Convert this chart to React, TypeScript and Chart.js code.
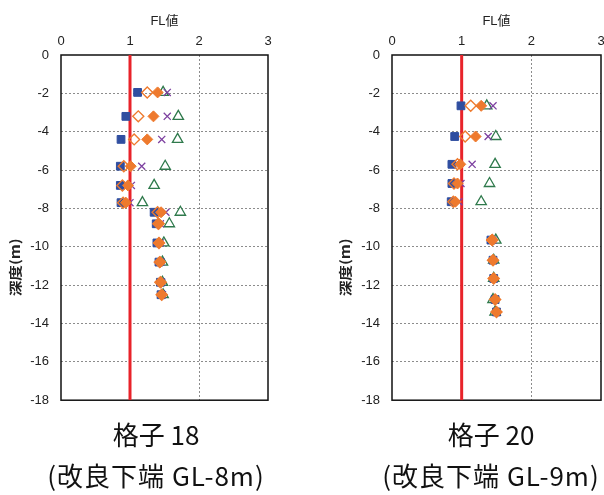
import React, { useEffect, useRef } from 'react';
import { Chart, registerables } from 'chart.js';

Chart.register(...registerables);

// ---- data ----
const X_TICK_STEP = 1;
const X_MIN = 0;
const X_MAX = 3;
const Y_MIN = -18;
const Y_MAX = 0;
const Y_TICK_STEP = 2;

const LIMIT_X = [1, 1];
const LIMIT_Y = [0, -18];

// 格子18
const DEPTH_18 = [-1.95, -3.2, -4.4, -5.8, -6.8, -7.7, -8.2, -8.8, -9.8, -10.8, -11.85, -12.5];
const SQUARE_18 = [1.11, 0.94, 0.87, 0.86, 0.86, 0.87, 1.35, 1.38, 1.39, 1.42, 1.44, 1.45];
const OPEN_DIAMOND_18 = [1.25, 1.12, 1.06, 0.91, 0.89, 0.9, 1.4, 1.41, 1.42, 1.43, 1.44, 1.46];
const DIAMOND_18 = [1.4, 1.34, 1.25, 1.01, 0.97, 0.94, 1.45, 1.42, 1.42, 1.44, 1.45, 1.46];
const CROSS_18 = [1.54, 1.54, 1.46, 1.17, 1.02, 1.0, 1.52, 1.44, 1.44, 1.45, 1.46, 1.47];
const TRIANGLE_18 = [1.48, 1.7, 1.69, 1.51, 1.35, 1.18, 1.73, 1.57, 1.49, 1.47, 1.47, 1.48];

// 格子20
const DEPTH_20 = [-2.65, -4.25, -5.7, -6.7, -7.65, -9.65, -10.7, -11.65, -12.75, -13.4];
const SQUARE_20 = [0.99, 0.9, 0.86, 0.86, 0.85, 1.42, 1.45, 1.46, 1.48, 1.5];
const OPEN_DIAMOND_20 = [1.13, 1.05, 0.94, 0.89, 0.88, 1.44, 1.45, 1.46, 1.48, 1.5];
const DIAMOND_20 = [1.28, 1.2, 0.98, 0.94, 0.91, 1.43, 1.45, 1.46, 1.48, 1.5];
const CROSS_20 = [1.45, 1.38, 1.15, 0.99, 0.96, 1.45, 1.45, 1.46, 1.48, 1.5];
const TRIANGLE_20 = [1.36, 1.49, 1.48, 1.4, 1.28, 1.49, 1.46, 1.46, 1.45, 1.48];

const CAPTION_18 = ['格子 18', '(改良下端 GL-8m)'];
const CAPTION_20 = ['格子 20', '(改良下端 GL-9m)'];

// ---- styles ----
const BLUE = '#2f4ea0';
const ORANGE = '#ee7a2e';
const PURPLE = '#7d40a0';
const GREEN = '#2f7a4c';
const RED = '#e8232a';
const GRID = '#8c8c8c';
const TEXT = '#222';
const TICK_FONT = { family: "'Liberation Sans', Arial, sans-serif", size: 13 };

const pts = (xs: number[], ys: number[]) => xs.map((x, i) => ({ x, y: ys[i] }));

const boxPlugin = {
  id: 'plotBox',
  beforeDatasetsDraw(chart: any) {
    const { ctx, chartArea: a } = chart;
    ctx.save();
    ctx.strokeStyle = '#111';
    ctx.lineWidth = 1.5;
    ctx.strokeRect(a.left, a.top, a.right - a.left, a.bottom - a.top);
    ctx.restore();
  },
};

const yTitlePlugin = {
  id: 'yTitle',
  afterDraw(chart: any, _args: any, opts: any) {
    const { ctx, chartArea: a } = chart;
    ctx.save();
    ctx.translate(opts.x, a.top + (a.bottom - a.top) * 0.615);
    ctx.rotate(-Math.PI / 2);
    ctx.scale(1.2, 1);
    ctx.fillStyle = TEXT;
    ctx.font = "bold 13px 'Noto Sans CJK JP', sans-serif";
    ctx.textAlign = 'center';
    ctx.textBaseline = 'middle';
    ctx.fillText(opts.text, 0, 0);
    ctx.restore();
  },
};

type PanelProps = {
  depths: number[];
  square: number[];
  openDiamond: number[];
  diamond: number[];
  cross: number[];
  triangle: number[];
  left: number;
  width: number;
  padRight: number;
  yWidth: number;
  caption: string[];
  captionCenter: number;
};

function Panel(p: PanelProps) {
  const ref = useRef<HTMLCanvasElement | null>(null);
  useEffect(() => {
    if (!ref.current) return;
    const chart = new Chart(ref.current, {
      type: 'scatter',
      data: {
        datasets: [
          {
            label: 'limit',
            data: pts(LIMIT_X, LIMIT_Y),
            showLine: true,
            borderColor: RED,
            borderWidth: 3,
            pointRadius: 0,
            order: 10,
          },
          {
            label: 'diamond',
            data: pts(p.diamond, p.depths),
            pointStyle: 'rectRot',
            pointRadius: 5.5,
            backgroundColor: ORANGE,
            borderColor: ORANGE,
            borderWidth: 1,
            order: 0,
          },
          {
            label: 'openDiamond',
            data: pts(p.openDiamond, p.depths),
            pointStyle: 'rectRot',
            pointRadius: 5.5,
            backgroundColor: 'rgba(255,255,255,0)',
            borderColor: ORANGE,
            borderWidth: 1.4,
            order: 1,
          },
          {
            label: 'square',
            data: pts(p.square, p.depths),
            pointStyle: 'rect',
            pointRadius: 5.5,
            backgroundColor: BLUE,
            borderColor: BLUE,
            borderWidth: 1,
            order: 2,
          },
          {
            label: 'cross',
            data: pts(p.cross, p.depths),
            pointStyle: 'crossRot',
            pointRadius: 5,
            borderColor: PURPLE,
            backgroundColor: PURPLE,
            borderWidth: 1.3,
            order: 3,
          },
          {
            label: 'triangle',
            data: pts(p.triangle, p.depths),
            pointStyle: 'triangle',
            pointRadius: 6,
            backgroundColor: 'rgba(255,255,255,0)',
            borderColor: GREEN,
            borderWidth: 1.3,
            order: 4,
          },
        ],
      },
      options: {
        animation: false,
        responsive: true,
        maintainAspectRatio: false,
        layout: { padding: { left: 0, top: 0, right: p.padRight, bottom: 13 } },
        plugins: {
          legend: { display: false },
          tooltip: { enabled: false },
          yTitle: { text: '深度(m)', x: 15 },
        } as any,
        scales: {
          x: {
            type: 'linear',
            position: 'top',
            min: X_MIN,
            max: X_MAX,
            ticks: { stepSize: X_TICK_STEP, padding: 6, font: TICK_FONT, color: TEXT },
            grid: {
              drawTicks: false,
              lineWidth: 1,
              color: (c: any) => (c.tick && c.tick.value === 2 ? GRID : 'rgba(0,0,0,0)'),
            },
            border: { display: false, dash: [2, 2] },
            title: {
              display: true,
              text: 'FL値',
              color: TEXT,
              font: { family: "'Liberation Sans', 'Noto Sans CJK JP', sans-serif", size: 13 },
              padding: { top: 14, bottom: 0 },
            },
            afterFit: (s: any) => {
              s.height = 55;
            },
          },
          y: {
            type: 'linear',
            min: Y_MIN,
            max: Y_MAX,
            ticks: { stepSize: Y_TICK_STEP, padding: 12, font: TICK_FONT, color: TEXT },
            grid: {
              drawTicks: false,
              lineWidth: 1,
              color: (c: any) =>
                c.tick && c.tick.value !== Y_MIN && c.tick.value !== Y_MAX ? GRID : 'rgba(0,0,0,0)',
            },
            border: { display: false, dash: [2, 2] },
            afterFit: (s: any) => {
              s.width = p.yWidth;
            },
          },
        } as any,
      },
      plugins: [boxPlugin, yTitlePlugin],
    });
    return () => chart.destroy();
  }, []);

  const capStyle = (top: number): React.CSSProperties => ({
    position: 'absolute',
    left: p.captionCenter - 160,
    width: 320,
    top,
    height: 40,
    lineHeight: '40px',
    textAlign: 'center',
    fontFamily: "'Noto Sans CJK JP', sans-serif",
    fontSize: 26,
    color: '#111',
    whiteSpace: 'nowrap',
  });

  return (
    <>
      <div style={{ position: 'absolute', left: p.left, top: 0, width: p.width, height: 420 }}>
        <canvas ref={ref} />
      </div>
      <div style={capStyle(414)}>{p.caption[0]}</div>
      <div style={{ ...capStyle(455), letterSpacing: '1px' }}>{p.caption[1]}</div>
    </>
  );
}

export default function App() {
  useEffect(() => {
    document.documentElement.style.overflow = 'hidden';
    document.body.style.overflow = 'hidden';
  }, []);
  return (
    <div
      style={{
        position: 'fixed',
        left: 0,
        top: 0,
        width: 604,
        height: 495,
        overflow: 'hidden',
        background: '#fff',
      }}
    >
      <Panel
        depths={DEPTH_18}
        square={SQUARE_18}
        openDiamond={OPEN_DIAMOND_18}
        diamond={DIAMOND_18}
        cross={CROSS_18}
        triangle={TRIANGLE_18}
        left={0}
        width={300}
        padRight={32}
        yWidth={61}
        caption={CAPTION_18}
        captionCenter={156}
      />
      <Panel
        depths={DEPTH_20}
        square={SQUARE_20}
        openDiamond={OPEN_DIAMOND_20}
        diamond={DIAMOND_20}
        cross={CROSS_20}
        triangle={TRIANGLE_20}
        left={330}
        width={290}
        padRight={19}
        yWidth={62}
        caption={CAPTION_20}
        captionCenter={491}
      />
    </div>
  );
}
